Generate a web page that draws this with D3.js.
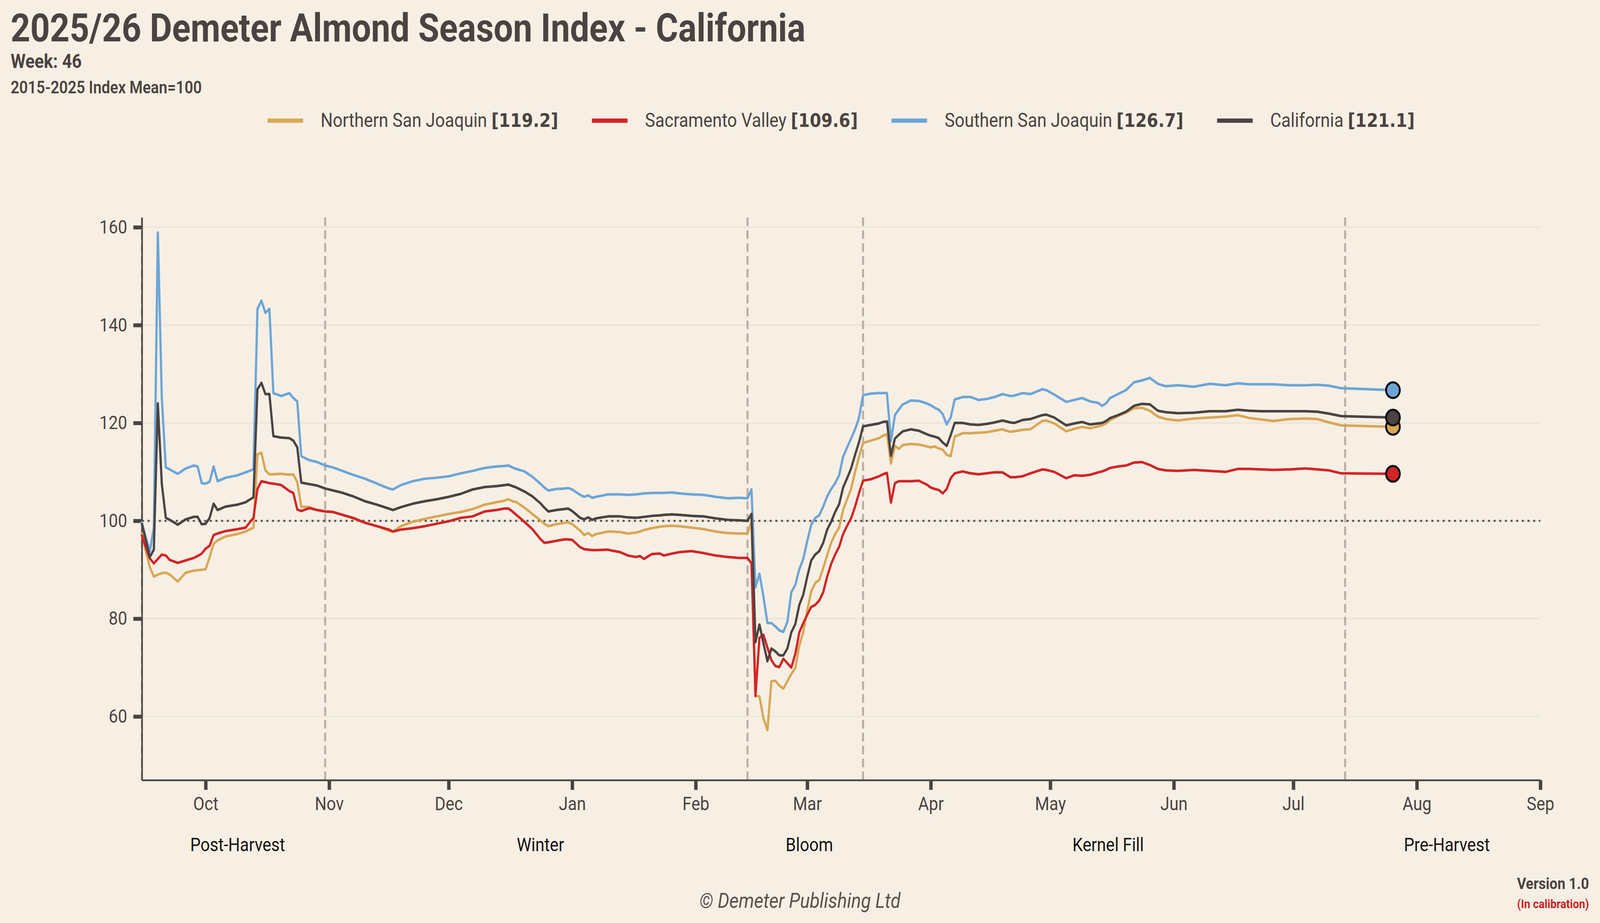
<!DOCTYPE html>
<html>
<head>
<meta charset="utf-8">
<script src="https://cdn.jsdelivr.net/npm/d3@7"></script>
<style>
  html, body { margin: 0; padding: 0; background: #F7EFE4; overflow: hidden; }
  svg { display: block; }
  svg text { font-family: Roboto, "Noto Sans", "DejaVu Sans", sans-serif; }
</style>
</head>
<body>
<svg id="chart"></svg>
<script>
// ---------------- DATA ----------------
const seasonStart = "2025-09-01";           // day 0 of the offsets below
// day offsets from seasonStart for each observation
const dayOffsets = [
  14,15,16,17,18,19,20,21,23,25,
  27,28,29,30,31,32,33,35,38,40,
  42,43,44,45,46,47,49,51,52,53,
  54,56,58,60,62,64,67,70,73,76,
  77,79,82,85,88,91,94,97,100,103,
  105,106,107,108,110,112,114,115,116,118,
  120,121,122,124,125,126,127,128,131,132,
  134,136,138,139,140,142,144,145,147,149,
  152,155,158,161,164,166,167,168,169,170,
  171,172,173,174,175,176,177,178,179,180,
  181,182,183,184,185,186,187,188,189,190,
  191,192,193,194,195,197,199,200,201,202,
  203,204,205,207,209,211,212,213,214,215,
  216,217,218,220,222,224,226,228,230,231,
  232,233,235,237,240,241,243,246,248,250,
  252,254,255,256,257,259,261,263,265,267,
  269,271,274,278,282,286,289,292,295,298,
  302,306,309,312,315,328
];
const northernSanJoaquin = [
  97.5,93.7,90.5,88.6,89.0,89.3,89.4,89.0,87.6,89.4,
  89.8,89.9,90.0,90.1,92.6,95.3,96.0,96.8,97.3,97.8,
  98.6,113.6,113.9,110.3,109.5,109.5,109.6,109.4,109.5,107.9,
  102.9,102.8,102.2,101.9,101.8,101.3,100.5,99.6,98.9,98.0,
  97.8,98.9,99.8,100.4,100.9,101.4,101.8,102.4,103.3,103.8,
  104.1,104.4,104.0,103.8,102.7,101.4,100.1,99.4,98.9,99.3,
  99.6,99.7,99.3,98.0,97.1,97.5,96.9,97.3,97.8,97.8,
  97.7,97.4,97.6,97.8,98.1,98.5,98.8,98.9,99.0,98.9,
  98.6,98.3,97.8,97.5,97.4,97.4,99.8,64.2,64.1,59.6,
  57.2,67.2,67.3,66.3,65.7,67.2,68.7,69.9,74.5,77.3,
  81.7,85.6,87.3,87.9,90.3,93.0,95.5,97.3,98.6,102.2,
  104.4,106.5,110.0,113.1,115.9,116.4,116.9,117.4,117.7,111.7,
  115.3,114.7,115.5,115.7,115.6,115.2,115.0,115.2,114.8,114.5,
  113.5,113.2,117.2,117.9,117.9,118.0,118.1,118.4,118.7,118.4,
  118.2,118.3,118.6,118.7,120.4,120.5,119.9,118.3,118.8,119.2,
  118.9,119.3,119.5,119.9,120.6,121.4,122.1,123.0,123.1,122.5,
  121.3,120.8,120.5,120.9,121.1,121.3,121.6,121.0,120.7,120.4,
  120.8,120.9,120.8,120.1,119.5,119.2
];
const sacramentoValley = [
  97.0,94.5,92.3,91.3,92.2,93.1,92.9,92.0,91.4,91.9,
  92.4,92.8,93.3,94.3,94.9,97.1,97.4,97.9,98.3,98.6,
  100.6,106.5,108.1,107.9,107.7,107.6,107.3,106.1,105.7,102.3,
  102.0,102.6,102.2,101.9,101.8,101.3,100.6,99.6,98.9,98.2,
  97.8,98.2,98.5,98.9,99.4,99.9,100.6,100.9,101.9,102.2,
  102.5,102.5,101.9,101.2,99.8,98.3,96.3,95.5,95.6,95.9,
  96.2,96.2,96.1,94.6,94.2,94.1,94.0,94.0,94.1,93.9,
  93.6,92.9,92.6,92.8,92.2,93.2,93.3,92.9,93.3,93.6,
  93.8,93.4,92.9,92.6,92.4,92.4,91.3,64.2,76.1,76.7,
  74.1,71.5,70.3,70.1,71.8,70.9,70.0,72.8,77.2,79.1,
  80.8,82.4,82.8,83.7,85.4,88.6,91.2,93.1,94.7,97.3,
  99.0,100.5,102.9,105.7,108.2,108.5,109.1,109.5,109.8,103.7,
  107.7,108.1,108.1,108.1,108.2,107.4,106.8,106.5,106.3,105.6,
  106.5,108.7,109.7,110.1,109.7,109.5,109.7,109.9,109.9,109.4,
  108.9,108.9,109.1,109.7,110.5,110.4,110.0,108.7,109.3,109.2,
  109.4,109.9,110.1,110.4,110.8,111.1,111.3,111.9,112.0,111.4,
  110.6,110.3,110.2,110.4,110.2,110.0,110.6,110.6,110.5,110.4,
  110.5,110.7,110.5,110.3,109.7,109.6
];
const southernSanJoaquin = [
  99.7,96.5,93.8,98.7,158.9,125.0,110.9,110.5,109.6,110.7,
  111.3,111.1,107.7,107.6,108.0,111.1,108.1,108.8,109.3,109.9,
  110.5,143.3,145.0,142.5,143.3,126.1,125.5,126.1,125.1,124.4,
  113.2,112.4,112.0,111.3,110.9,110.3,109.4,108.6,107.6,106.6,
  106.4,107.3,108.1,108.6,108.8,109.1,109.7,110.2,110.8,111.1,
  111.2,111.3,110.9,110.6,110.1,109.0,107.6,106.8,106.2,106.5,
  106.6,106.7,106.4,105.3,104.9,105.2,104.7,104.9,105.4,105.4,
  105.4,105.3,105.4,105.5,105.6,105.7,105.7,105.7,105.8,105.6,
  105.4,105.3,104.9,104.6,104.7,104.6,106.4,86.4,89.2,84.5,
  79.1,79.1,78.4,77.6,77.3,79.3,85.4,86.9,90.1,92.2,
  95.9,99.2,100.6,101.1,102.9,105.0,106.5,107.7,109.3,113.1,
  115.0,116.8,118.7,121.1,125.7,126.0,126.1,126.1,126.1,116.3,
  121.6,122.8,123.8,124.6,124.5,124.0,123.6,123.1,122.7,121.8,
  119.7,121.1,124.8,125.3,125.3,124.7,124.9,125.3,125.9,125.7,
  125.5,125.6,126.1,125.9,126.9,126.7,125.8,124.3,124.7,125.1,
  124.4,124.1,123.5,124.0,125.1,125.9,126.7,128.3,128.7,129.2,
  128.0,127.5,127.7,127.4,128.0,127.7,128.1,127.9,127.9,127.9,
  127.7,127.7,127.8,127.6,127.1,126.7
];
const california = [
  99.3,96.0,92.6,94.1,124.0,107.5,100.6,100.2,99.2,100.3,
  100.8,100.8,99.3,99.4,100.6,103.5,102.2,102.9,103.3,103.8,
  104.8,126.9,128.2,125.9,125.9,117.3,117.0,116.9,116.4,115.0,
  107.8,107.5,107.2,106.6,106.2,105.8,105.0,104.0,103.3,102.5,
  102.2,102.8,103.5,104.0,104.4,104.9,105.5,106.4,106.9,107.1,
  107.3,107.4,107.1,106.8,106.0,105.0,103.6,102.7,101.9,102.2,
  102.4,102.5,102.0,100.6,100.3,100.7,100.2,100.5,100.9,100.9,
  100.9,100.7,100.6,100.7,100.8,101.0,101.1,101.2,101.3,101.2,
  101.0,100.9,100.5,100.2,100.1,100.0,101.4,75.2,78.8,75.0,
  71.3,73.9,73.3,72.5,72.5,73.9,77.2,78.9,82.8,84.9,
  88.6,91.9,93.1,93.8,95.5,98.2,99.8,101.8,103.4,106.8,
  108.7,110.7,113.5,116.1,119.3,119.6,119.9,120.2,120.3,113.3,
  116.8,117.6,118.3,118.7,118.4,117.7,117.4,117.2,116.9,116.0,
  115.3,117.5,120.0,120.0,119.7,119.6,119.8,120.1,120.5,120.3,
  120.1,120.0,120.6,120.8,121.6,121.7,121.1,119.5,119.9,120.2,
  119.7,119.9,120.0,120.4,121.0,121.6,122.3,123.5,123.9,123.8,
  122.5,122.2,122.0,122.1,122.4,122.4,122.7,122.5,122.4,122.4,
  122.4,122.4,122.3,121.9,121.4,121.1
];
const seriesNames = ["Northern San Joaquin", "Sacramento Valley", "Southern San Joaquin", "California"];
const latestValues = ["119.2", "109.6", "126.7", "121.1"];
const seriesColors = ["#D8A755", "#D32427", "#6CA5D8", "#4B4341"];
const yTickValues = [60, 80, 100, 120, 140, 160];
const yDomain = [47, 162];
const xDomain = ["2025-09-15", "2026-09-01"];
const monthTicks = ["2025-10-01","2025-11-01","2025-12-01","2026-01-01","2026-02-01","2026-03-01",
                    "2026-04-01","2026-05-01","2026-06-01","2026-07-01","2026-08-01","2026-09-01"];
const phaseBounds = ["2025-09-15", "2025-10-31", "2026-02-14", "2026-03-15", "2026-07-14", "2026-09-01"];
const phaseNames = ["Post-Harvest", "Winter", "Bloom", "Kernel Fill", "Pre-Harvest"];
const referenceLevel = 100;

// ---------------- CHART ----------------
const W = 4668, H = 2364;
const ink = "#4B4341";
const parse = d3.timeParse("%Y-%m-%d");
const start = parse(seasonStart);
const dates = dayOffsets.map(d => d3.timeDay.offset(start, d));
const seriesValues = [northernSanJoaquin, sacramentoValley, southernSanJoaquin, california];

// the 4668x2364 design fills the whole viewport
const vw = window.innerWidth || W, vh = window.innerHeight || H;
const svg = d3.select("#chart")
  .attr("viewBox", `0 0 ${W} ${H}`)
  .attr("width", vw).attr("height", vh)
  .attr("preserveAspectRatio", "none");
svg.append("rect").attr("width", W).attr("height", H).attr("fill", "#F7EFE4");

const plot = { left: 414, right: 4494, top: 557, bottom: 1998 };
const x = d3.scaleTime().domain(xDomain.map(parse)).range([plot.left, plot.right]);
const y = d3.scaleLinear().domain(yDomain).range([plot.bottom, plot.top]);

// Titles
svg.append("text").attr("x", 31).attr("y", 106).attr("font-size", 100).attr("font-weight", 700)
  .attr("fill", ink).text("2025/26 Demeter Almond Season Index - California");
svg.append("text").attr("x", 31).attr("y", 174).attr("font-size", 50).attr("font-weight", 700)
  .attr("fill", ink).text("Week: 46");
svg.append("text").attr("x", 31).attr("y", 239).attr("font-size", 44).attr("font-weight", 600)
  .attr("fill", ink).text("2015-2025 Index Mean=100");

// Gridlines
svg.append("g").selectAll("line").data(yTickValues).join("line")
  .attr("x1", plot.left).attr("x2", plot.right)
  .attr("y1", d => y(d)).attr("y2", d => y(d))
  .attr("stroke", "#EBE2D7").attr("stroke-width", 3);

// Phase boundary dashed lines
svg.append("g").selectAll("line").data(phaseBounds.slice(0, -1).map(parse)).join("line")
  .attr("x1", d => x(d)).attr("x2", d => x(d))
  .attr("y1", plot.top).attr("y2", plot.bottom)
  .attr("stroke", "#B9AFA5").attr("stroke-width", 6)
  .attr("stroke-dasharray", "22,11");

// Reference line at 100
svg.append("line")
  .attr("x1", plot.left).attr("x2", plot.right)
  .attr("y1", y(referenceLevel)).attr("y2", y(referenceLevel))
  .attr("stroke", "#57504D").attr("stroke-width", 5).attr("stroke-dasharray", "6,10.5");

// Axes
const xAxis = d3.axisBottom(x).tickValues(monthTicks.map(parse))
  .tickFormat(d3.timeFormat("%b")).tickSize(25).tickSizeOuter(0).tickPadding(18);
const gx = svg.append("g").attr("transform", `translate(0,${plot.bottom})`).call(xAxis);
gx.select(".domain").attr("stroke", ink).attr("stroke-width", 4.5);
gx.selectAll(".tick line").attr("stroke", ink).attr("stroke-width", 10);
gx.selectAll(".tick text").attr("font-size", 48).attr("fill", ink)
  .attr("font-family", "Roboto, sans-serif").attr("dy", "0.71em");

const yAxis = d3.axisLeft(y).tickValues(yTickValues).tickSize(25).tickSizeOuter(0).tickPadding(18);
const gy = svg.append("g").attr("transform", `translate(${plot.left},0)`).call(yAxis);
gy.select(".domain").attr("stroke", ink).attr("stroke-width", 4.5);
gy.selectAll(".tick line").attr("stroke", ink).attr("stroke-width", 10);
gy.selectAll(".tick text").attr("font-size", 48).attr("fill", ink)
  .attr("font-family", "Roboto, sans-serif");

// Phase labels
const pb = phaseBounds.map(parse);
svg.append("g").selectAll("text").data(phaseNames).join("text")
  .attr("x", (d, i) => (x(pb[i]) + x(pb[i + 1])) / 2 + 12)
  .attr("y", 2180).attr("text-anchor", "middle").attr("font-size", 48)
  .attr("fill", "#161212").text(d => d);

// Series lines
const line = d3.line().x((d, i) => x(dates[i])).y(d => y(d));
seriesValues.forEach((vals, k) => {
  svg.append("path").datum(vals).attr("d", line)
    .attr("fill", "none").attr("stroke", seriesColors[k]).attr("stroke-width", 6.5)
    .attr("stroke-linejoin", "round").attr("stroke-linecap", "round");
});
// End dots
seriesValues.forEach((vals, k) => {
  const n = vals.length - 1;
  svg.append("circle").attr("cx", x(dates[n])).attr("cy", y(vals[n])).attr("r", 20)
    .attr("fill", seriesColors[k]).attr("stroke", "#0c0a0a").attr("stroke-width", 5.5);
});

// Legend (centered over plot area)
const legend = svg.append("g");
const items = seriesNames.map((name, k) => {
  const g = legend.append("g");
  g.append("line").attr("x1", 0).attr("x2", 104).attr("y1", 309).attr("y2", 309)
    .attr("stroke", seriesColors[k]).attr("stroke-width", 11);
  const t = g.append("text").attr("x", 155).attr("y", 325).attr("font-size", 50).attr("fill", ink);
  t.append("tspan").text(name + " ");
  t.append("tspan").attr("font-family", "'DejaVu Sans', sans-serif").attr("font-weight", 700)
    .attr("font-size", 48).text("[" + latestValues[k] + "]");
  const w = 155 + t.node().getComputedTextLength();
  return { g, w };
});
const gap = 98;
const totalW = d3.sum(items, d => d.w) + gap * (items.length - 1);
let cx = (plot.left + plot.right) / 2 - totalW / 2;
items.forEach(it => { it.g.attr("transform", `translate(${cx},0)`); cx += it.w + gap; });

// Footer
svg.append("text").attr("x", W / 2).attr("y", 2325).attr("text-anchor", "middle")
  .attr("font-size", 53).attr("font-style", "italic").attr("fill", "#57504D")
  .text("© Demeter Publishing Ltd");
svg.append("text").attr("x", 4636).attr("y", 2277).attr("text-anchor", "end")
  .attr("font-size", 41).attr("font-weight", 700).attr("fill", ink).text("Version 1.0");
svg.append("text").attr("x", 4636).attr("y", 2326).attr("text-anchor", "end")
  .attr("font-size", 32).attr("font-weight", 700).attr("fill", "#D01F25").text("(In calibration)");
</script>
</body>
</html>
